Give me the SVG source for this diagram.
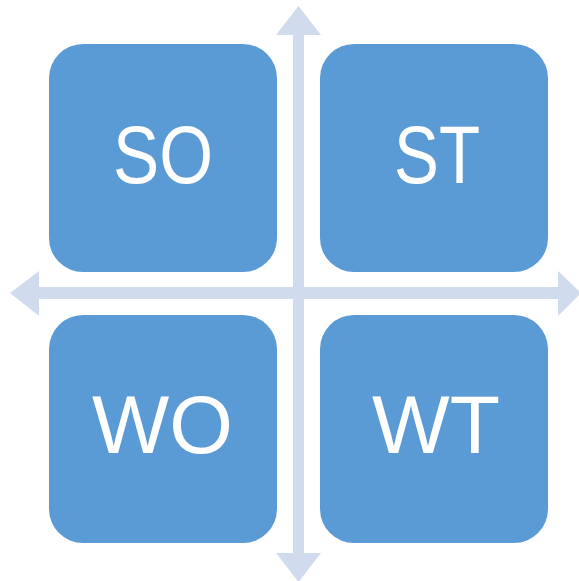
<svg xmlns="http://www.w3.org/2000/svg" width="579" height="581" viewBox="0 0 579 581">
<style>
.box{fill:#5B9BD5;}
.lbl{fill:#FFFFFF;font-family:"Liberation Sans",Arial,sans-serif;font-size:81px;text-anchor:middle;}
.arr{fill:#D0DCEE;}
</style>
<rect width="579" height="581" fill="#FFFFFF"/>
<g id="connectors">
<polygon class="arr" points="293,35 276,35 298.5,6 321,35 304,35 304,553 321,553 298.5,582 276,553 293,553"/>
<polygon class="arr" points="39,287 39,271 10,293 39,316 39,299 558,299 558,316 581,293 558,271 558,287"/>
</g>
<g id="SO">
<rect class="box" x="49" y="44" width="228" height="228" rx="34"/>
<text class="lbl" x="163" y="183" textLength="100" lengthAdjust="spacingAndGlyphs">SO</text>
</g>
<g id="ST">
<rect class="box" x="320" y="44" width="228" height="228" rx="34"/>
<text class="lbl" x="437" y="183" textLength="86" lengthAdjust="spacingAndGlyphs">ST</text>
</g>
<g id="WO">
<rect class="box" x="49" y="315" width="228" height="228" rx="34"/>
<text class="lbl" x="162.5" y="453" textLength="141" lengthAdjust="spacingAndGlyphs">WO</text>
</g>
<g id="WT">
<rect class="box" x="320" y="315" width="228" height="228" rx="34"/>
<text class="lbl" x="436" y="453" textLength="128" lengthAdjust="spacingAndGlyphs">WT</text>
</g>
</svg>
